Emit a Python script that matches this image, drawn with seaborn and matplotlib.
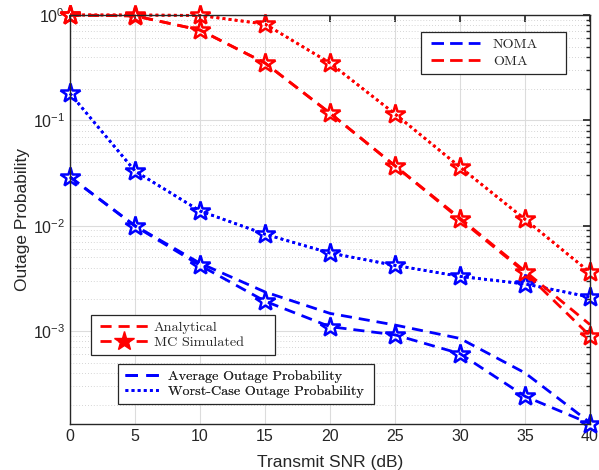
import numpy as np
import pandas as pd
import matplotlib
matplotlib.use("Agg")
import matplotlib.pyplot as plt
from matplotlib.lines import Line2D
from matplotlib.patches import Rectangle
import seaborn as sns

snr = [0, 5, 10, 15, 20, 25, 30, 35, 40]

noma_avg_ana = [0.029, 0.0100, 0.0044, 0.00235, 0.00147, 0.00114, 0.00085, 0.00040, 0.000135]
noma_avg_sim = [0.029, 0.0099, 0.0042, 0.00192, 0.00110, 0.00092, 0.00061, 0.00024, 0.000132]
noma_worst_ana = [0.18, 0.033, 0.0138, 0.0083, 0.0055, 0.0042, 0.0033, 0.0028, 0.0021]
noma_worst_sim = [0.18, 0.033, 0.0138, 0.0083, 0.0055, 0.0042, 0.0033, 0.0028, 0.0021]

oma_avg_ana = [1.0, 0.98, 0.72, 0.35, 0.117, 0.037, 0.0118, 0.0037, 0.00115]
oma_avg_sim = [1.0, 0.98, 0.72, 0.35, 0.117, 0.037, 0.0115, 0.0036, 0.00090]
oma_worst_ana = [1.0, 1.0, 0.99, 0.82, 0.35, 0.115, 0.036, 0.0115, 0.0036]
oma_worst_sim = [1.0, 1.0, 0.99, 0.82, 0.35, 0.115, 0.036, 0.0115, 0.0036]

sns.set_theme(style="white")
plt.rcParams['font.family'] = ['Liberation Sans', 'DejaVu Sans']

W, H = 599, 470
fig = plt.figure(figsize=(W / 100, H / 100), dpi=100)
ax = fig.add_axes([70 / W, 1 - 424 / H, 520 / W, 409 / H])

BLUE = "#0000ff"
RED = "#ff0000"
dash = (4, 2.5)
dot = (1, 1.2)

def draw(y, color, ls, marker=None, lw=2.0):
    sns.lineplot(x=snr, y=y, ax=ax, color=color, linewidth=lw, legend=False)
    line = ax.lines[-1]
    line.set_dashes(dash if ls == 'dash' else dot)
    line.set_clip_on(False)
    if marker:
        line.set_marker('*')
        line.set_markersize(15)
        line.set_markerfacecolor('none')
        line.set_markeredgecolor(color)
        line.set_markeredgewidth(1.8)

draw(noma_avg_ana, BLUE, 'dash')
draw(noma_avg_sim, BLUE, 'dash', marker=True)
draw(noma_worst_ana, BLUE, 'dot')
draw(noma_worst_sim, BLUE, 'dot', marker=True)
draw(oma_avg_ana, RED, 'dash')
draw(oma_avg_sim, RED, 'dash', marker=True)
draw(oma_worst_ana, RED, 'dot')
draw(oma_worst_sim, RED, 'dot', marker=True)

ax.set_yscale('log')
ax.set_xlim(0, 40)
ax.set_ylim(1.31e-4, 1.0)
ax.set_xticks(np.arange(0, 41, 5))
ax.set_yticks([1e-3, 1e-2, 1e-1, 1e0])
ax.grid(True, which='major', color='#dcdcdc', linewidth=0.8, linestyle='-')
ax.grid(True, which='minor', color='#c8c8c8', linewidth=0.6, linestyle=(0, (1, 2.5)))
ax.set_axisbelow(True)
for s in ax.spines.values():
    s.set_visible(True)
    s.set_color('#262626')
    s.set_linewidth(1.0)
ax.tick_params(which='both', direction='in', top=True, right=True, colors='#262626', labelsize=11.5)
ax.tick_params(which='major', length=5)
ax.tick_params(which='minor', length=3)
ax.set_xlabel('Transmit SNR (dB)', fontsize=12.5, color='#262626', labelpad=8)
ax.set_ylabel('Outage Probability', fontsize=12.5, color='#262626', labelpad=2)

lfont = {'family': ['cmr10', 'Liberation Serif'], 'size': 10.2}
FS = 10.2 * 100 / 72  # font size in px

def mk_leg(handles, labels, box, handle_x, handle_len_px, text_x, row_px):
    x0, y0, x1, y1 = box
    rect = Rectangle((x0 / W, 1 - y1 / H), (x1 - x0) / W, (y1 - y0) / H,
                     transform=fig.transFigure, facecolor='white',
                     edgecolor='#262626', linewidth=0.9, zorder=4, clip_on=False)
    ax.add_artist(rect)
    cy = (y0 + y1) / 2
    lg = ax.legend(handles, labels, loc='center left',
                   bbox_to_anchor=(handle_x / W, 1 - cy / H),
                   bbox_transform=fig.transFigure, prop=lfont, frameon=False,
                   handlelength=handle_len_px / FS, borderpad=0,
                   labelspacing=(row_px - FS * 1.0) / FS,
                   handletextpad=(text_x - handle_x - handle_len_px) / FS,
                   borderaxespad=0)
    lg.set_zorder(5)
    ax.add_artist(lg)
    return lg

h1 = [Line2D([], [], color=BLUE, lw=2, dashes=(4.5, 2.2)),
      Line2D([], [], color=RED, lw=2, dashes=(4.5, 2.2))]
mk_leg(h1, ['NOMA', 'OMA'], (421, 32, 566, 74), 431, 49, 493, 18)
h2 = [Line2D([], [], color=RED, lw=2, dashes=dash),
      Line2D([], [], color=RED, lw=2, dashes=dash, marker='*', markersize=15,
             markerfacecolor=RED, markeredgecolor=RED)]
mk_leg(h2, ['Analytical', 'MC Simulated'], (91, 315, 275, 355), 100, 48, 154, 17)
h3 = [Line2D([], [], color=BLUE, lw=2, dashes=(4.5, 3)),
      Line2D([], [], color=BLUE, lw=2, dashes=dot)]
mk_leg(h3, ['Average Outage Probability', 'Worst-Case Outage Probability'],
       (118, 364, 374, 404), 125, 35, 168, 17)

fig.savefig('out.png', dpi=100)
